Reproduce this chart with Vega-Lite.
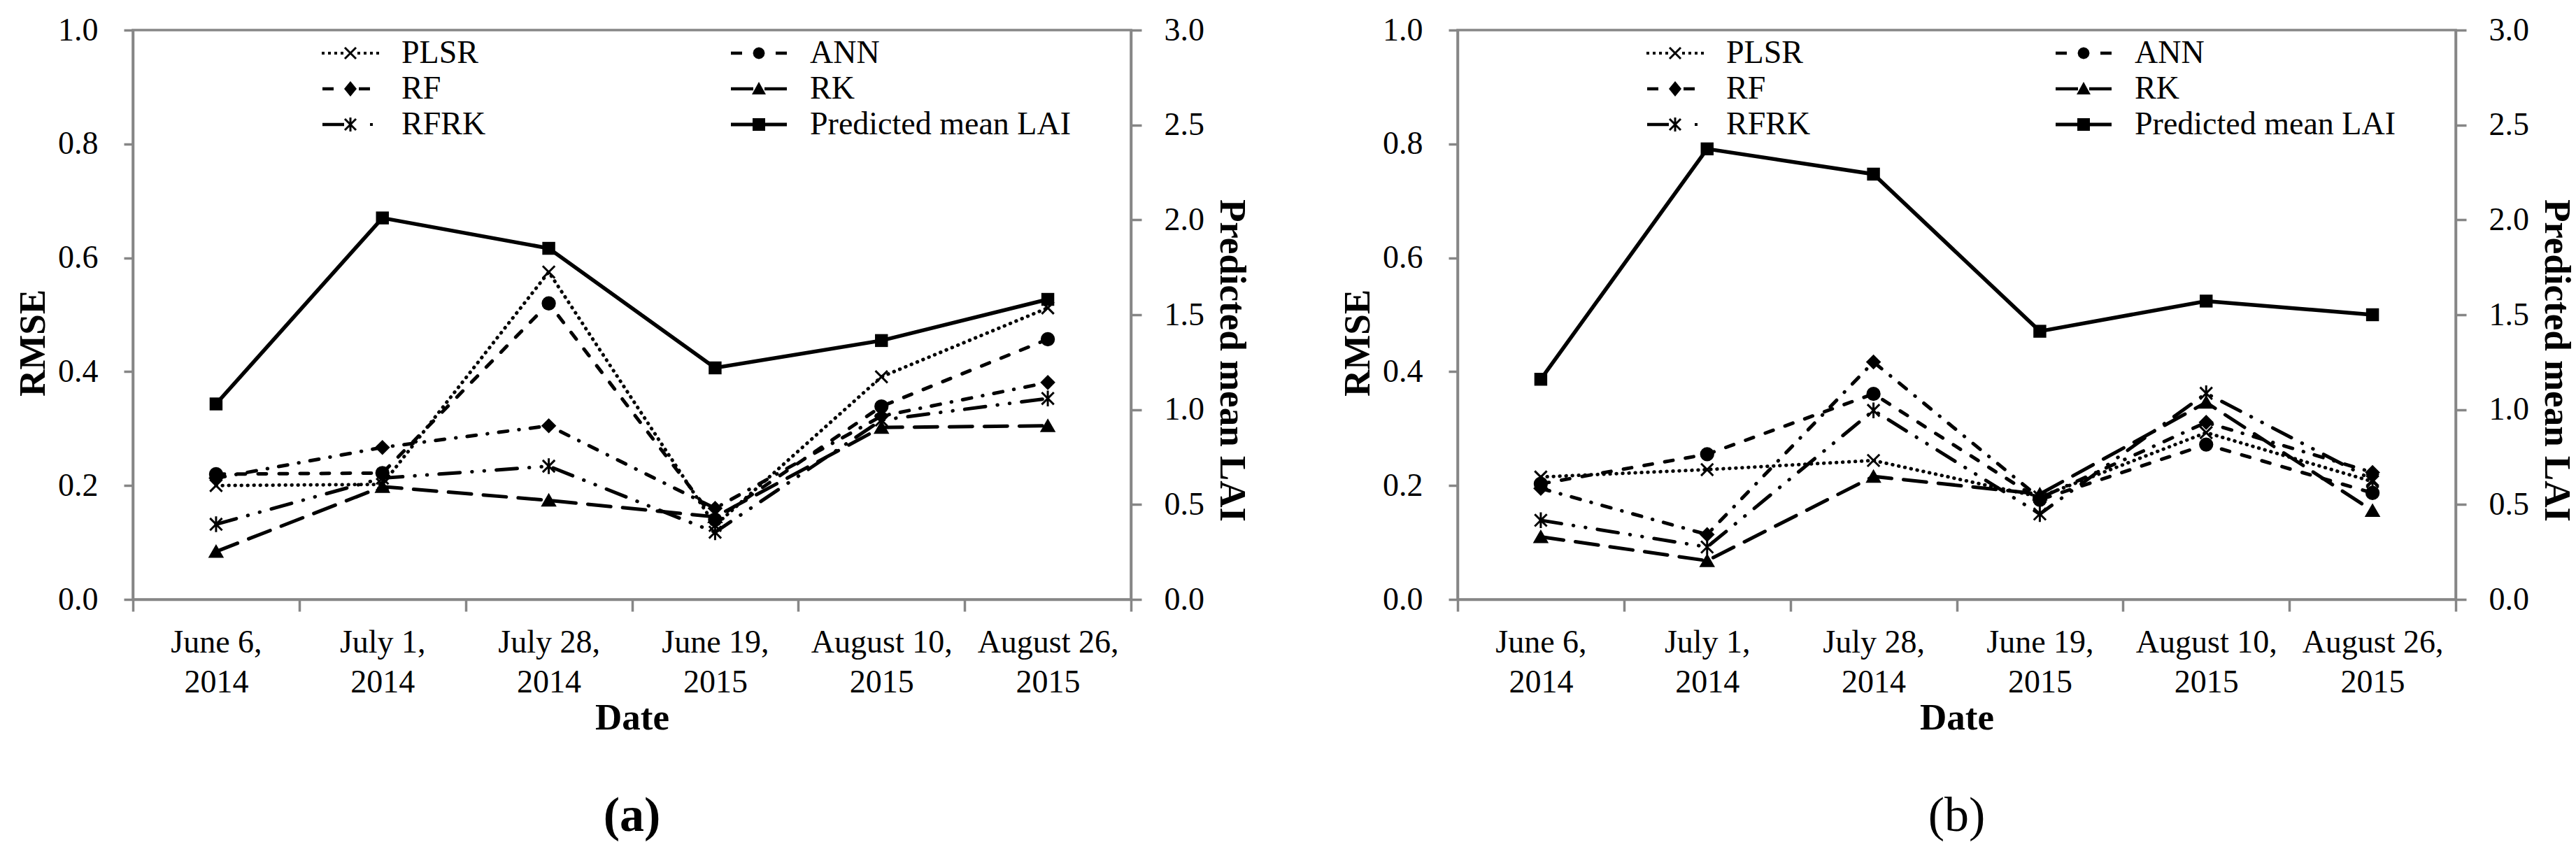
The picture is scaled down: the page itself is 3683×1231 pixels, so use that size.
{
  "$schema": "https://vega.github.io/schema/vega-lite/v6.json",
  "background": "white",
  "padding": {"left": 19, "top": 18, "right": 5, "bottom": 5},
  "datasets": {
    "a": [
      {"date": "June 6, 2014", "series": "PLSR", "value": 0.200},
      {"date": "June 6, 2014", "series": "ANN", "value": 0.220},
      {"date": "June 6, 2014", "series": "RF", "value": 0.213},
      {"date": "June 6, 2014", "series": "RK", "value": 0.084},
      {"date": "June 6, 2014", "series": "RFRK", "value": 0.132},
      {"date": "June 6, 2014", "series": "Predicted mean LAI", "value": 1.03},
      {"date": "July 1, 2014", "series": "PLSR", "value": 0.202},
      {"date": "July 1, 2014", "series": "ANN", "value": 0.222},
      {"date": "July 1, 2014", "series": "RF", "value": 0.267},
      {"date": "July 1, 2014", "series": "RK", "value": 0.198},
      {"date": "July 1, 2014", "series": "RFRK", "value": 0.213},
      {"date": "July 1, 2014", "series": "Predicted mean LAI", "value": 2.01},
      {"date": "July 28, 2014", "series": "PLSR", "value": 0.575},
      {"date": "July 28, 2014", "series": "ANN", "value": 0.520},
      {"date": "July 28, 2014", "series": "RF", "value": 0.305},
      {"date": "July 28, 2014", "series": "RK", "value": 0.174},
      {"date": "July 28, 2014", "series": "RFRK", "value": 0.234},
      {"date": "July 28, 2014", "series": "Predicted mean LAI", "value": 1.85},
      {"date": "June 19, 2015", "series": "PLSR", "value": 0.130},
      {"date": "June 19, 2015", "series": "ANN", "value": 0.140},
      {"date": "June 19, 2015", "series": "RF", "value": 0.160},
      {"date": "June 19, 2015", "series": "RK", "value": 0.145},
      {"date": "June 19, 2015", "series": "RFRK", "value": 0.118},
      {"date": "June 19, 2015", "series": "Predicted mean LAI", "value": 1.22},
      {"date": "August 10, 2015", "series": "PLSR", "value": 0.391},
      {"date": "August 10, 2015", "series": "ANN", "value": 0.339},
      {"date": "August 10, 2015", "series": "RF", "value": 0.322},
      {"date": "August 10, 2015", "series": "RK", "value": 0.302},
      {"date": "August 10, 2015", "series": "RFRK", "value": 0.315},
      {"date": "August 10, 2015", "series": "Predicted mean LAI", "value": 1.364},
      {"date": "August 26, 2015", "series": "PLSR", "value": 0.512},
      {"date": "August 26, 2015", "series": "ANN", "value": 0.457},
      {"date": "August 26, 2015", "series": "RF", "value": 0.381},
      {"date": "August 26, 2015", "series": "RK", "value": 0.305},
      {"date": "August 26, 2015", "series": "RFRK", "value": 0.353},
      {"date": "August 26, 2015", "series": "Predicted mean LAI", "value": 1.581}
    ],
    "b": [
      {"date": "June 6, 2014", "series": "PLSR", "value": 0.215},
      {"date": "June 6, 2014", "series": "ANN", "value": 0.203},
      {"date": "June 6, 2014", "series": "RF", "value": 0.195},
      {"date": "June 6, 2014", "series": "RK", "value": 0.110},
      {"date": "June 6, 2014", "series": "RFRK", "value": 0.139},
      {"date": "June 6, 2014", "series": "Predicted mean LAI", "value": 1.16},
      {"date": "July 1, 2014", "series": "PLSR", "value": 0.228},
      {"date": "July 1, 2014", "series": "ANN", "value": 0.255},
      {"date": "July 1, 2014", "series": "RF", "value": 0.114},
      {"date": "July 1, 2014", "series": "RK", "value": 0.068},
      {"date": "July 1, 2014", "series": "RFRK", "value": 0.092},
      {"date": "July 1, 2014", "series": "Predicted mean LAI", "value": 2.374},
      {"date": "July 28, 2014", "series": "PLSR", "value": 0.244},
      {"date": "July 28, 2014", "series": "ANN", "value": 0.361},
      {"date": "July 28, 2014", "series": "RF", "value": 0.417},
      {"date": "July 28, 2014", "series": "RK", "value": 0.216},
      {"date": "July 28, 2014", "series": "RFRK", "value": 0.332},
      {"date": "July 28, 2014", "series": "Predicted mean LAI", "value": 2.241},
      {"date": "June 19, 2015", "series": "PLSR", "value": 0.180},
      {"date": "June 19, 2015", "series": "ANN", "value": 0.175},
      {"date": "June 19, 2015", "series": "RF", "value": 0.178},
      {"date": "June 19, 2015", "series": "RK", "value": 0.185},
      {"date": "June 19, 2015", "series": "RFRK", "value": 0.150},
      {"date": "June 19, 2015", "series": "Predicted mean LAI", "value": 1.413},
      {"date": "August 10, 2015", "series": "PLSR", "value": 0.293},
      {"date": "August 10, 2015", "series": "ANN", "value": 0.272},
      {"date": "August 10, 2015", "series": "RF", "value": 0.311},
      {"date": "August 10, 2015", "series": "RK", "value": 0.346},
      {"date": "August 10, 2015", "series": "RFRK", "value": 0.362},
      {"date": "August 10, 2015", "series": "Predicted mean LAI", "value": 1.572},
      {"date": "August 26, 2015", "series": "PLSR", "value": 0.207},
      {"date": "August 26, 2015", "series": "ANN", "value": 0.187},
      {"date": "August 26, 2015", "series": "RF", "value": 0.223},
      {"date": "August 26, 2015", "series": "RK", "value": 0.156},
      {"date": "August 26, 2015", "series": "RFRK", "value": 0.210},
      {"date": "August 26, 2015", "series": "Predicted mean LAI", "value": 1.50}
    ]
  },
  "spacing": 124,
  "hconcat": [
    {
      "width": 1427,
      "height": 814,
      "data": {"name": "a"},
      "title": {"text": "(a)", "orient": "bottom", "anchor": "middle", "font": "Liberation Serif", "fontSize": 70, "fontWeight": "bold", "color": "black", "offset": 80},
      "encoding": {
        "x": {
          "field": "date", "type": "nominal", "bandPosition": 0.5,
          "sort": ["June 6, 2014", "July 1, 2014", "July 28, 2014", "June 19, 2015", "August 10, 2015", "August 26, 2015"],
          "scale": {"type": "band", "paddingInner": 0, "paddingOuter": 0},
          "axis": {"title": "Date", "tickBand": "extent", "labelAngle": 0, "tickSize": 17, "labelPadding": 22, "titlePadding": 2, "labelLineHeight": 57, "labelLimit": 400,
            "labelExpr": "isValid(datum.value) ? split(replace(datum.value, ', ', ',|'), '|') : ''"}
        }
      },
      "layer": [
        {
          "encoding": {
            "y": {"field": "value", "type": "quantitative", "scale": {"domain": [0, 1], "nice": false},
              "axis": {"title": "RMSE", "orient": "left", "values": [0, 0.2, 0.4, 0.6, 0.8, 1], "format": ".1f", "tickSize": 13, "labelPadding": 37, "titlePadding": 8, "titleY": 447}}
          },
          "layer": [
            {
              "transform": [{"filter": "datum.series !== 'Predicted mean LAI'"}],
              "mark": {"type": "line", "color": "black", "strokeWidth": 5, "strokeCap": "round"},
              "encoding": {
                "strokeDash": {"field": "series", "type": "nominal",
                  "scale": {"domain": ["PLSR", "ANN", "RF", "RK", "RFRK"], "range": [[0.5, 8.5], [12, 18], [13, 16, 0.5, 16], [33, 17], [30, 17, 0.5, 17, 0.5, 17]]},
                  "legend": null}
              }
            },
            {
              "transform": [{"filter": "datum.series !== 'Predicted mean LAI'"}],
              "mark": {"type": "point", "filled": true, "color": "black", "stroke": "black", "strokeWidth": 3, "size": 300, "opacity": 1},
              "encoding": {
                "shape": {"field": "series", "type": "nominal",
                  "scale": {"domain": ["PLSR", "ANN", "RF", "RK", "RFRK"], "range": ["M-1,-1L1,1M-1,1L1,-1", "circle", "diamond", "triangle-up", "M-1,-1L1,1M-1,1L1,-1M0,-1.3L0,1.3"]},
                  "legend": null}
              }
            },
            {
              "transform": [{"filter": "datum.series !== 'Predicted mean LAI'"}],
              "mark": {"type": "point", "filled": true, "color": "black", "opacity": 0},
              "encoding": {
                "shape": {"field": "series", "type": "nominal",
                  "scale": {"domain": ["PLSR", "RF", "RFRK", "ANN", "RK", "Predicted mean LAI"],
                    "range": [
                      "M-4.1,-0.2h0.4v0.4h-0.4ZM-3.2,-0.2h0.4v0.4h-0.4ZM-2.3,-0.2h0.4v0.4h-0.4ZM-1.4,-0.2h0.4v0.4h-0.4ZM1,-0.2h0.4v0.4h-0.4ZM1.9,-0.2h0.4v0.4h-0.4ZM2.8,-0.2h0.4v0.4h-0.4ZM3.7,-0.2h0.4v0.4h-0.4ZM-0.694,-0.906L0.906,0.694L0.694,0.906L-0.906,-0.694ZM-0.906,0.694L0.694,-0.906L0.906,-0.694L-0.694,0.906Z",
                      "M-4,-0.225h1.6v0.45h-1.6ZM0,-1.1L0.9,0L0,1.1L-0.9,0ZM1.2,-0.225h1.6v0.45h-1.6Z",
                      "M-4,-0.225h3.1v0.45h-3.1ZM-0.694,-0.906L0.906,0.694L0.694,0.906L-0.906,-0.694ZM-0.906,0.694L0.694,-0.906L0.906,-0.694L-0.694,0.906ZM-0.15,-1h0.3v2h-0.3ZM2.8,-0.2h0.4v0.4h-0.4Z",
                      "M-4,-0.225h1.6v0.45h-1.6ZM0.85,0L0.736,0.425L0.425,0.736L0,0.85L-0.425,0.736L-0.736,0.425L-0.85,0L-0.736,-0.425L-0.425,-0.736L0,-0.85L0.425,-0.736L0.736,-0.425ZM2.4,-0.225h1.6v0.45h-1.6Z",
                      "M-4,-0.225h3.2v0.45h-3.2ZM0,-1L1,0.8L-1,0.8ZM0.8,-0.225h3.2v0.45h-3.2Z",
                      "M-4,-0.25h8v0.5h-8ZM-0.9,-0.9h1.8v1.8h-1.8Z"
                    ]},
                  "legend": {"title": null, "orient": "none", "legendX": 288, "legendY": 10, "columns": 2, "columnPadding": 350, "rowPadding": 5,
                    "symbolSize": 400, "symbolStrokeWidth": 0, "symbolFillColor": "black",
                    "labelFont": "Liberation Serif", "labelFontSize": 46, "labelColor": "black", "labelOffset": 50, "labelLimit": 500,
                    "encode": {"symbols": {"opacity": {"value": 1}, "fill": {"value": "black"}, "fillOpacity": {"value": 1}}}}
                }
              }
            }
          ],
          "resolve": {"scale": {"shape": "independent"}}
        },
        {
          "transform": [{"filter": "datum.series === 'Predicted mean LAI'"}],
          "mark": {"type": "line", "color": "black", "strokeWidth": 5.5, "point": {"shape": "square", "size": 340, "filled": true, "color": "black"}},
          "encoding": {
            "y": {"field": "value", "type": "quantitative", "scale": {"domain": [0, 3], "nice": false},
              "axis": {"title": "Predicted mean LAI", "orient": "right", "values": [0, 0.5, 1, 1.5, 2, 2.5, 3], "format": ".1f", "tickSize": 15, "labelPadding": 32, "titlePadding": 12, "titleY": 472}}
          }
        }
      ],
      "resolve": {"scale": {"y": "independent"}}
    },
    {
      "width": 1427,
      "height": 814,
      "data": {"name": "b"},
      "title": {"text": "(b)", "orient": "bottom", "anchor": "middle", "font": "Liberation Serif", "fontSize": 70, "fontWeight": "normal", "color": "black", "offset": 80},
      "encoding": {
        "x": {
          "field": "date", "type": "nominal", "bandPosition": 0.5,
          "sort": ["June 6, 2014", "July 1, 2014", "July 28, 2014", "June 19, 2015", "August 10, 2015", "August 26, 2015"],
          "scale": {"type": "band", "paddingInner": 0, "paddingOuter": 0},
          "axis": {"title": "Date", "tickBand": "extent", "labelAngle": 0, "tickSize": 17, "labelPadding": 22, "titlePadding": 2, "labelLineHeight": 57, "labelLimit": 400,
            "labelExpr": "isValid(datum.value) ? split(replace(datum.value, ', ', ',|'), '|') : ''"}
        }
      },
      "layer": [
        {
          "encoding": {
            "y": {"field": "value", "type": "quantitative", "scale": {"domain": [0, 1], "nice": false},
              "axis": {"title": "RMSE", "orient": "left", "values": [0, 0.2, 0.4, 0.6, 0.8, 1], "format": ".1f", "tickSize": 13, "labelPadding": 37, "titlePadding": 8, "titleY": 447}}
          },
          "layer": [
            {
              "transform": [{"filter": "datum.series !== 'Predicted mean LAI'"}],
              "mark": {"type": "line", "color": "black", "strokeWidth": 5, "strokeCap": "round"},
              "encoding": {
                "strokeDash": {"field": "series", "type": "nominal",
                  "scale": {"domain": ["PLSR", "ANN", "RF", "RK", "RFRK"], "range": [[0.5, 8.5], [12, 18], [13, 16, 0.5, 16], [33, 17], [30, 17, 0.5, 17, 0.5, 17]]},
                  "legend": null}
              }
            },
            {
              "transform": [{"filter": "datum.series !== 'Predicted mean LAI'"}],
              "mark": {"type": "point", "filled": true, "color": "black", "stroke": "black", "strokeWidth": 3, "size": 300, "opacity": 1},
              "encoding": {
                "shape": {"field": "series", "type": "nominal",
                  "scale": {"domain": ["PLSR", "ANN", "RF", "RK", "RFRK"], "range": ["M-1,-1L1,1M-1,1L1,-1", "circle", "diamond", "triangle-up", "M-1,-1L1,1M-1,1L1,-1M0,-1.3L0,1.3"]},
                  "legend": null}
              }
            },
            {
              "transform": [{"filter": "datum.series !== 'Predicted mean LAI'"}],
              "mark": {"type": "point", "filled": true, "color": "black", "opacity": 0},
              "encoding": {
                "shape": {"field": "series", "type": "nominal",
                  "scale": {"domain": ["PLSR", "RF", "RFRK", "ANN", "RK", "Predicted mean LAI"],
                    "range": [
                      "M-4.1,-0.2h0.4v0.4h-0.4ZM-3.2,-0.2h0.4v0.4h-0.4ZM-2.3,-0.2h0.4v0.4h-0.4ZM-1.4,-0.2h0.4v0.4h-0.4ZM1,-0.2h0.4v0.4h-0.4ZM1.9,-0.2h0.4v0.4h-0.4ZM2.8,-0.2h0.4v0.4h-0.4ZM3.7,-0.2h0.4v0.4h-0.4ZM-0.694,-0.906L0.906,0.694L0.694,0.906L-0.906,-0.694ZM-0.906,0.694L0.694,-0.906L0.906,-0.694L-0.694,0.906Z",
                      "M-4,-0.225h1.6v0.45h-1.6ZM0,-1.1L0.9,0L0,1.1L-0.9,0ZM1.2,-0.225h1.6v0.45h-1.6Z",
                      "M-4,-0.225h3.1v0.45h-3.1ZM-0.694,-0.906L0.906,0.694L0.694,0.906L-0.906,-0.694ZM-0.906,0.694L0.694,-0.906L0.906,-0.694L-0.694,0.906ZM-0.15,-1h0.3v2h-0.3ZM2.8,-0.2h0.4v0.4h-0.4Z",
                      "M-4,-0.225h1.6v0.45h-1.6ZM0.85,0L0.736,0.425L0.425,0.736L0,0.85L-0.425,0.736L-0.736,0.425L-0.85,0L-0.736,-0.425L-0.425,-0.736L0,-0.85L0.425,-0.736L0.736,-0.425ZM2.4,-0.225h1.6v0.45h-1.6Z",
                      "M-4,-0.225h3.2v0.45h-3.2ZM0,-1L1,0.8L-1,0.8ZM0.8,-0.225h3.2v0.45h-3.2Z",
                      "M-4,-0.25h8v0.5h-8ZM-0.9,-0.9h1.8v1.8h-1.8Z"
                    ]},
                  "legend": {"title": null, "orient": "none", "legendX": 288, "legendY": 10, "columns": 2, "columnPadding": 350, "rowPadding": 5,
                    "symbolSize": 400, "symbolStrokeWidth": 0, "symbolFillColor": "black",
                    "labelFont": "Liberation Serif", "labelFontSize": 46, "labelColor": "black", "labelOffset": 50, "labelLimit": 500,
                    "encode": {"symbols": {"opacity": {"value": 1}, "fill": {"value": "black"}, "fillOpacity": {"value": 1}}}}
                }
              }
            }
          ],
          "resolve": {"scale": {"shape": "independent"}}
        },
        {
          "transform": [{"filter": "datum.series === 'Predicted mean LAI'"}],
          "mark": {"type": "line", "color": "black", "strokeWidth": 5.5, "point": {"shape": "square", "size": 340, "filled": true, "color": "black"}},
          "encoding": {
            "y": {"field": "value", "type": "quantitative", "scale": {"domain": [0, 3], "nice": false},
              "axis": {"title": "Predicted mean LAI", "orient": "right", "values": [0, 0.5, 1, 1.5, 2, 2.5, 3], "format": ".1f", "tickSize": 15, "labelPadding": 32, "titlePadding": 12, "titleY": 472}}
          }
        }
      ],
      "resolve": {"scale": {"y": "independent"}}
    }
  ],
  "config": {
    "font": "Liberation Serif",
    "view": {"stroke": "#868686", "strokeWidth": 3.5},
    "axis": {"domainColor": "#868686", "domainWidth": 3.5, "tickColor": "#868686", "tickWidth": 3.5, "grid": false,
      "labelFont": "Liberation Serif", "labelFontSize": 46, "labelColor": "black",
      "titleFont": "Liberation Serif", "titleFontSize": 53, "titleFontWeight": "bold", "titleColor": "black"}
  }
}
